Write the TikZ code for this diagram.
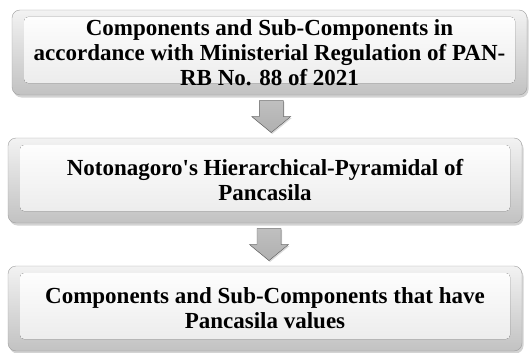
\documentclass[tikz,border=0pt]{standalone}
\usepackage{xcolor}
\usepackage{amsmath}
\usepackage{fontspec}
\setmainfont{Liberation Serif}
\usetikzlibrary{calc,shadows}

\tikzset{
	bevelbox/.style={draw=gray!75, rounded corners=8pt, top color=gray!10, bottom color=gray!48,
		minimum height=85pt, inner sep=0pt, align=center,
		font=\bfseries\fontsize{23}{25}\selectfont,
		drop shadow={shadow xshift=1.5pt, shadow yshift=-2.5pt, opacity=.35},
		path picture={\fill[rounded corners=4pt, top color=white, bottom color=gray!17]
			([xshift=12pt,yshift=-7pt]path picture bounding box.north west) rectangle
			([xshift=-12pt,yshift=12pt]path picture bounding box.south east);}},
	downarrow/.style={draw=gray!85!black, line join=miter, top color=gray!50, bottom color=gray!62,
		drop shadow={shadow xshift=1pt, shadow yshift=-1.5pt, opacity=.3}}
}

\begin{document}
\begin{tikzpicture}[x=1pt, y=1pt] % one unit = one pixel of the figure
		
		\useasboundingbox (0,0) rectangle (530,-353);
		\node[bevelbox, minimum width=515pt] (b1) at (269.5,-52.5)
		{Components and Sub-Components in\\accordance with Ministerial Regulation of PAN-\\RB No. 88 of 2021};
		\node[bevelbox, minimum width=514pt] (b2) at (265,-180.5)
		{Notonagoro\textquotesingle s Hierarchical-Pyramidal of\\Pancasila};
		\node[bevelbox, minimum width=514pt] (b3) at (265,-308.5)
		{Components and Sub-Components that have\\Pancasila values};
		\coordinate (a1) at ($(b1.south)!.5!(b2.north)+(4,0)$);
		\coordinate (a2) at ($(b2.south)!.5!(b3.north)+(4,0)$);
		\filldraw[downarrow] ([shift={(-12,16)}]a1) -- ([shift={(12,16)}]a1) -- ([shift={(12,0)}]a1)
		-- ([shift={(19.5,0)}]a1) -- ([shift={(0,-16)}]a1) -- ([shift={(-19.5,0)}]a1) -- ([shift={(-12,0)}]a1) -- cycle;
		\filldraw[downarrow] ([shift={(-12,16)}]a2) -- ([shift={(12,16)}]a2) -- ([shift={(12,0)}]a2)
		-- ([shift={(19.5,0)}]a2) -- ([shift={(0,-16)}]a2) -- ([shift={(-19.5,0)}]a2) -- ([shift={(-12,0)}]a2) -- cycle;
		\end{tikzpicture}
\end{document}
